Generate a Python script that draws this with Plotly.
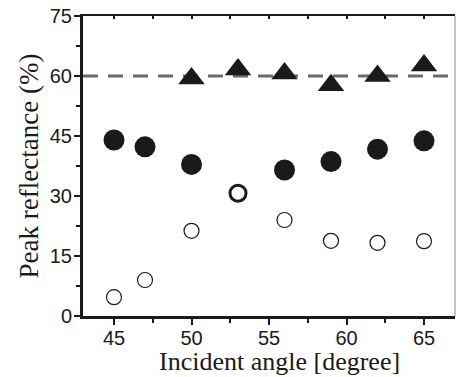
import plotly.graph_objects as go

angles = [45, 47, 50, 53, 56, 59, 62, 65]
filled_circles = [44.0, 42.3, 37.9, None, 36.5, 38.6, 41.7, 43.8]
open_circles = [4.7, 9.0, 21.3, None, 24.0, 18.8, 18.3, 18.7]
overlap_angle = [53]
overlap_value = [30.7]
tri_angles = [50, 53, 56, 59, 62, 65]
triangles = [59.4, 61.6, 60.6, 57.7, 60.0, 62.6]
ref_level = 60
x_ticks = [45, 50, 55, 60, 65]
y_ticks = [0, 15, 30, 45, 60, 75]

fig = go.Figure()

fig.add_trace(go.Scatter(
    x=[43, 67], y=[ref_level, ref_level], mode="lines",
    line=dict(color="#6a6a6a", width=3, dash="15px,10px"),
    showlegend=False, hoverinfo="skip"))

fig.add_trace(go.Scatter(
    x=angles, y=open_circles, mode="markers",
    marker=dict(symbol="circle", size=15, color="white",
                line=dict(color="#1a1a1a", width=1.2)),
    showlegend=False))

fig.add_trace(go.Scatter(
    x=angles, y=filled_circles, mode="markers",
    marker=dict(symbol="circle", size=21, color="#1a1a1a",
                line=dict(width=0)),
    showlegend=False))

fig.add_trace(go.Scatter(
    x=overlap_angle, y=overlap_value, mode="markers",
    marker=dict(symbol="circle", size=16, color="white",
                line=dict(color="#1a1a1a", width=3)),
    showlegend=False))

fig.add_trace(go.Scatter(
    x=tri_angles, y=triangles, mode="markers",
    marker=dict(symbol="triangle-up", size=23, color="#1a1a1a",
                line=dict(width=0)),
    showlegend=False))

# invisible trace to drive top axis
fig.add_trace(go.Scatter(x=[43], y=[0], xaxis="x2", mode="markers",
                         marker=dict(opacity=0), showlegend=False,
                         hoverinfo="skip"))

tick_font = dict(family="Liberation Sans, Arial, sans-serif", size=20, color="#1a1a1a")
title_font = dict(family="Liberation Serif, Times New Roman, serif", size=27, color="#1a1a1a")
xtitle_font = dict(family="Liberation Serif, Times New Roman, serif", size=26, color="#1a1a1a")

fig.update_layout(
    width=456, height=377,
    margin=dict(l=83, r=1, t=16, b=61),
    paper_bgcolor="white", plot_bgcolor="white",
    xaxis=dict(
        range=[43, 67], tickvals=x_ticks, ticks="outside", ticklen=6,
        tickwidth=2, tickcolor="#1a1a1a",
        showline=True, linewidth=3, linecolor="#1a1a1a",
        showgrid=False, zeroline=False, tickfont=tick_font,
        ticklabelstandoff=-4,
        minor=dict(tickvals=[47.5, 52.5, 57.5, 62.5], ticks="outside",
                   ticklen=4, tickwidth=2, tickcolor="#1a1a1a"),
    ),
    xaxis2=dict(
        range=[43, 67], overlaying="x", side="top", tickvals=x_ticks + [47.5, 52.5, 57.5, 62.5],
        ticks="inside", ticklen=3, tickwidth=1.5, tickcolor="#1a1a1a",
        showticklabels=False, showline=True, linewidth=2, linecolor="#1a1a1a",
        showgrid=False, zeroline=False,
    ),
    yaxis=dict(
        range=[0, 75], tickvals=y_ticks, ticks="outside", ticklen=6,
        tickwidth=2, tickcolor="#1a1a1a",
        showline=True, linewidth=3, linecolor="#1a1a1a",
        showgrid=False, zeroline=False, tickfont=tick_font,
        ticklabelstandoff=-2,
        minor=dict(tickvals=[7.5, 22.5, 37.5, 52.5, 67.5], ticks="outside",
                   ticklen=4, tickwidth=2, tickcolor="#1a1a1a"),
        title=dict(text="Peak reflectance (%)", font=title_font, standoff=4),
    ),
    annotations=[dict(text="Incident angle [degree]", xref="paper", yref="paper",
                      x=0.527, y=0, xanchor="center", yanchor="bottom", yshift=-61,
                      borderpad=0, showarrow=False, font=xtitle_font)],
    shapes=[dict(type="line", xref="paper", yref="paper", x0=1, x1=1, y0=0, y1=1,
                 line=dict(color="#b0b0b0", width=1.5))],
)

fig.write_html("out.html")
